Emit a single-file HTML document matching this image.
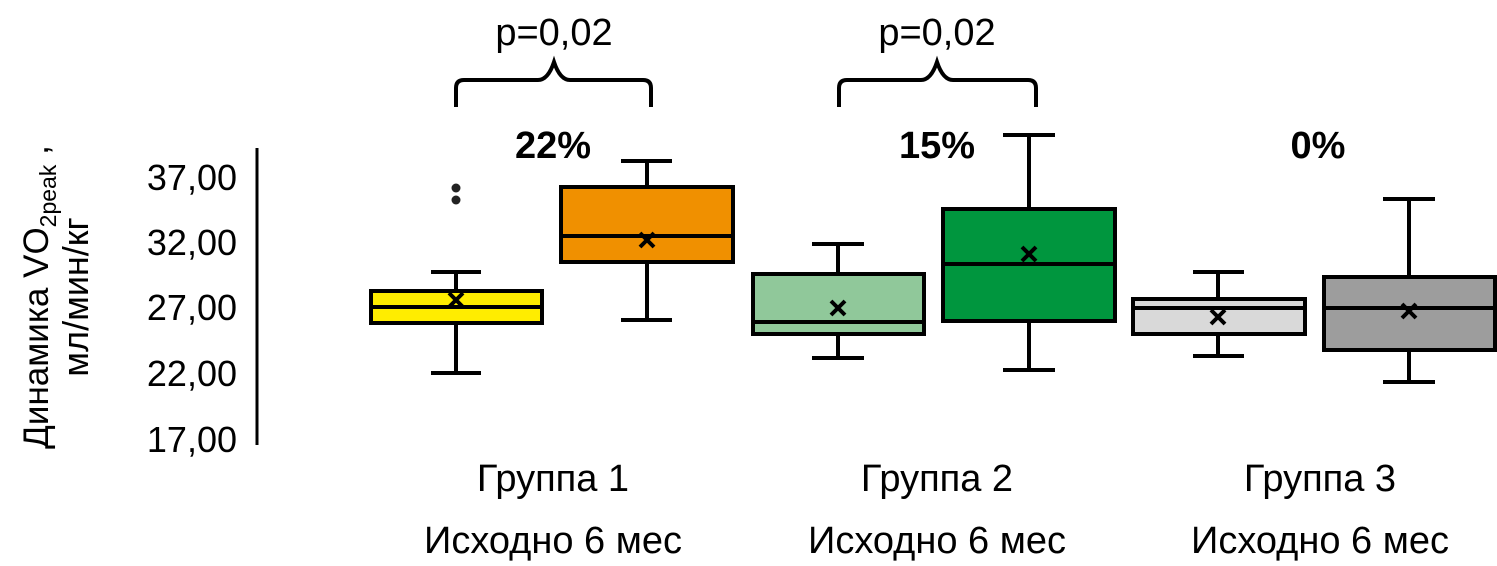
<!DOCTYPE html>
<html><head><meta charset="utf-8"><style>html,body{margin:0;padding:0;background:#fff}svg{display:block}</style></head>
<body>
<svg width="1497" height="566" viewBox="0 0 1497 566" xmlns="http://www.w3.org/2000/svg" font-family="Liberation Sans, DejaVu Sans, sans-serif">
<line x1="257" y1="148" x2="257" y2="445" stroke="#000" stroke-width="3"/>
<g font-size="36" text-anchor="end" fill="#000">
<text x="237" y="190">37,00</text>
<text x="237" y="255">32,00</text>
<text x="237" y="320">27,00</text>
<text x="237" y="386">22,00</text>
<text x="237" y="452">17,00</text>
</g>
<text transform="translate(48,297) rotate(-90)" font-size="35" text-anchor="middle">Динамика VO<tspan font-size="23" dy="8">2peak</tspan><tspan dy="-8"> ,</tspan></text>
<text transform="translate(88,297) rotate(-90)" font-size="36" text-anchor="middle">мл/мин/кг</text>
<g stroke="#000" stroke-width="4" fill="none">
<line x1="456" y1="272" x2="456" y2="373"/><line x1="431" y1="272" x2="481" y2="272"/><line x1="431" y1="373" x2="481" y2="373"/>
<rect x="371" y="291" width="171" height="32" fill="#FFED00"/><line x1="371" y1="307" x2="542" y2="307"/>
<line x1="647" y1="161" x2="647" y2="320"/><line x1="621" y1="161" x2="672" y2="161"/><line x1="621" y1="320" x2="672" y2="320"/>
<rect x="561" y="187" width="172" height="75" fill="#F09000"/><line x1="561" y1="236" x2="733" y2="236"/>
<line x1="838" y1="244" x2="838" y2="358"/><line x1="812" y1="244" x2="864" y2="244"/><line x1="812" y1="358" x2="864" y2="358"/>
<rect x="753" y="274" width="171" height="60" fill="#90C89A"/><line x1="753" y1="322" x2="924" y2="322"/>
<line x1="1029" y1="135" x2="1029" y2="370"/><line x1="1003" y1="135" x2="1055" y2="135"/><line x1="1003" y1="370" x2="1055" y2="370"/>
<rect x="943" y="209" width="172" height="112" fill="#00963E"/><line x1="943" y1="264" x2="1115" y2="264"/>
<line x1="1218" y1="272" x2="1218" y2="356"/><line x1="1193" y1="272" x2="1244" y2="272"/><line x1="1193" y1="356" x2="1244" y2="356"/>
<rect x="1133" y="299" width="172" height="35" fill="#D9D9D9"/><line x1="1133" y1="308" x2="1305" y2="308"/>
<line x1="1409" y1="199" x2="1409" y2="382"/><line x1="1383" y1="199" x2="1435" y2="199"/><line x1="1383" y1="382" x2="1435" y2="382"/>
<rect x="1324" y="277" width="171" height="73" fill="#9D9D9D"/><line x1="1324" y1="308" x2="1495" y2="308"/>
<path d="M456,107 V88 Q456,80 464,80 H538 Q548,80 554,62 Q560,80 570,80 H643 Q651,80 651,88 V107"/>
<path d="M839,107 V88 Q839,80 847,80 H921 Q931,80 937,62 Q943,80 953,80 H1028 Q1036,80 1036,88 V107"/>
</g>
<g stroke="#000" stroke-width="4">
<path d="M449,293 l14,14 M463,293 l-14,14"/>
<path d="M640,233 l14,14 M654,233 l-14,14"/>
<path d="M831,301 l14,14 M845,301 l-14,14"/>
<path d="M1022,247 l14,14 M1036,247 l-14,14"/>
<path d="M1211,310 l14,14 M1225,310 l-14,14"/>
<path d="M1402,304 l14,14 M1416,304 l-14,14"/>
</g>
<circle cx="456" cy="188" r="4.5" fill="#222"/><circle cx="456" cy="200" r="4.5" fill="#222"/>
<g font-size="38" text-anchor="middle">
<text x="554" y="45">p=0,02</text>
<text x="937" y="45">p=0,02</text>
<text x="553" y="158" font-weight="bold">22%</text>
<text x="937" y="158" font-weight="bold">15%</text>
<text x="1318" y="158" font-weight="bold">0%</text>
<text x="553" y="491">Группа 1</text>
<text x="937" y="491">Группа 2</text>
<text x="1320" y="491">Группа 3</text>
<text x="553" y="553">Исходно 6 мес</text>
<text x="937" y="553">Исходно 6 мес</text>
<text x="1320" y="553">Исходно 6 мес</text>
</g>
</svg>
</body></html>
